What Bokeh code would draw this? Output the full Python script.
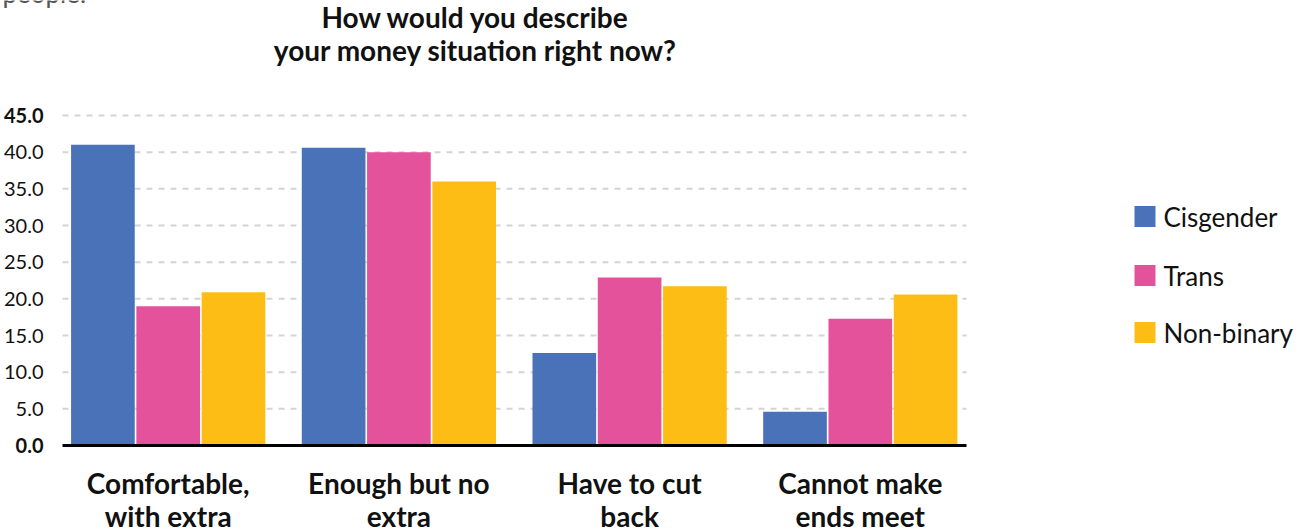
from bokeh.plotting import figure
from bokeh.models import Range1d
from bokeh.core.properties import value
from bokeh.embed import file_html
from bokeh.resources import INLINE

categories = ["Comfortable,\nwith extra", "Enough but no\nextra", "Have to cut\nback", "Cannot make\nends meet"]
series_names = ["Cisgender", "Trans", "Non-binary"]
cisgender = [41.0, 40.6, 12.6, 4.6]
trans = [19.0, 40.0, 22.9, 17.3]
nonbinary = [20.9, 36.0, 21.7, 20.6]
colors = ["#4a72b8", "#e3529a", "#fdbd14"]
y_ticks = [0, 5, 10, 15, 20, 25, 30, 35, 40, 45]
title_lines = ["How would you describe", "your money situation right now?"]

FONT = "Lato"
W, H = 1302, 529
# pixel geometry of the plotting area
PX0, PX_UNIT = 167.7, 230.7      # x pixel of category 0, pixels per category
PY0, PY_UNIT = 445.0, 330.0 / 45  # y pixel of value 0, pixels per unit


def dx(px):
    return (px - PX0) / PX_UNIT


def dy(py):
    return (PY0 - py) / PY_UNIT


p = figure(width=W, height=H, output_backend="svg", toolbar_location=None,
           x_range=Range1d(dx(0), dx(W)), y_range=Range1d(dy(H), dy(0)),
           min_border=0)
p.outline_line_color = None
p.axis.visible = False
p.grid.visible = False
p.background_fill_color = "white"
p.border_fill_color = "white"

x_left, x_right = dx(62), dx(966)

# dashed gridlines
grid_vals = [t for t in y_ticks if t > 0]
p.segment(x0=[x_left] * len(grid_vals), x1=[x_right] * len(grid_vals), y0=grid_vals, y1=grid_vals,
          line_color="#d4d4d4", line_width=2, line_dash="6 6")

# bars
offsets = [-0.283, 0.0, 0.283]
bw = 0.276
for vals, off, col in zip([cisgender, trans, nonbinary], offsets, colors):
    xs = [i + off for i in range(len(categories))]
    p.vbar(x=xs, top=vals, width=bw, fill_color=col, line_color=None)

# baseline axis line
p.segment(x0=[x_left], x1=[x_right], y0=[0], y1=[0], line_color="black", line_width=3)

# y tick labels
norm = [t for t in y_ticks if t not in (0, 45)]
bold = [t for t in y_ticks if t in (0, 45)]
tx = dx(43)
p.text(x=[tx] * len(norm), y=norm, text=[f"{t:.1f}" for t in norm], text_align="right",
       text_baseline="middle", text_font=value(FONT), text_font_size=value("20px"),
       text_color="#111111")
p.text(x=[tx] * len(bold), y=bold, text=[f"{t:.1f}" for t in bold], text_align="right",
       text_baseline="middle", text_font=value(FONT), text_font_size=value("20px"),
       text_font_style="bold", text_color="#111111")

# category labels (two lines each)
for li, py in enumerate([482, 515]):
    p.text(x=list(range(len(categories))), y=[dy(py)] * len(categories),
           text=[c.split("\n")[li] for c in categories], text_align="center",
           text_baseline="middle", text_font=value(FONT), text_font_size=value("28px"),
           text_font_style="bold", text_color="#111111")

# title
p.text(x=[dx(475)] * 2, y=[dy(16), dy(49)], text=title_lines, text_align="center",
       text_baseline="middle", text_font=value(FONT), text_font_size=value("28px"),
       text_font_style="bold", text_color="#111111")

# cut-off text from the page above
p.text(x=[dx(2)], y=[dy(-8)], text=["people."], text_align="left", text_baseline="alphabetic",
       text_font=value(FONT), text_font_size=value("26px"), text_color="#555555")

# legend
leg_y = [dy(216), dy(275), dy(332)]
p.scatter(x=[dx(1144.5)] * 3, y=leg_y, marker="square", size=21, fill_color=colors, line_color=None)
p.text(x=[dx(1163)] * 3, y=leg_y, text=series_names, text_align="left", text_baseline="middle",
       text_font=value(FONT), text_font_size=value("26px"), text_color="#111111")

open("out.html", "w").write(file_html(p, INLINE))
